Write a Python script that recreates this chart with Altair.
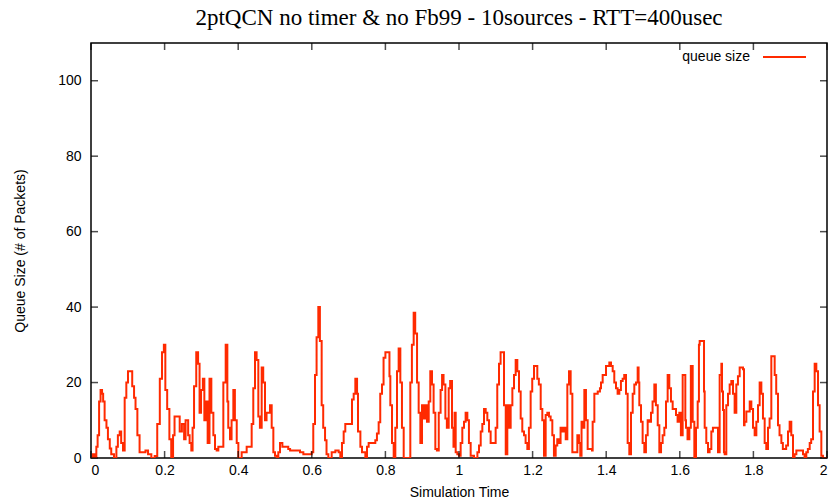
import altair as alt
import pandas as pd

TITLE = "2ptQCN no timer & no Fb99 - 10sources - RTT=400usec"
X_TITLE = "Simulation Time"
Y_TITLE = "Queue Size (# of Packets)"
SERIES = "queue size"

T = [
    0.000, 0.005, 0.010, 0.0145, 0.018, 0.022, 0.026, 0.030, 0.033, 0.037,
    0.042, 0.046, 0.051, 0.055, 0.0625, 0.069, 0.073, 0.078, 0.082, 0.087,
    0.0915, 0.096, 0.1005, 0.104, 0.108, 0.112, 0.117, 0.121, 0.126, 0.132,
    0.141, 0.148, 0.155, 0.164, 0.173, 0.180, 0.187, 0.193, 0.198, 0.202,
    0.207, 0.213, 0.218, 0.223, 0.227, 0.235, 0.241, 0.247, 0.253, 0.257,
    0.264, 0.268, 0.2726, 0.276, 0.280, 0.286, 0.291, 0.295, 0.299, 0.304,
    0.308, 0.313, 0.317, 0.322, 0.327, 0.3325, 0.337, 0.3415, 0.346, 0.355,
    0.3596, 0.366, 0.3705, 0.373, 0.3777, 0.382, 0.3868, 0.391, 0.396, 0.4004,
    0.4094, 0.423, 0.432, 0.4366, 0.441, 0.4457, 0.450, 0.4547, 0.459, 0.4638,
    0.468, 0.4728, 0.477, 0.482, 0.4864, 0.491, 0.4955, 0.500, 0.5045, 0.509,
    0.5136, 0.520, 0.532, 0.536, 0.541, 0.550, 0.560, 0.568, 0.577, 0.590,
    0.5952, 0.5996, 0.604, 0.6087, 0.613, 0.6177, 0.622, 0.6268, 0.631, 0.636,
    0.640, 0.645, 0.654, 0.664, 0.673, 0.6775, 0.682, 0.6866, 0.691, 0.6957,
    0.705, 0.7092, 0.7138, 0.7183, 0.723, 0.7255, 0.732, 0.7364, 0.741, 0.7455,
    0.750, 0.7545, 0.768, 0.7726, 0.777, 0.7817, 0.786, 0.7908, 0.795, 0.800,
    0.809, 0.811, 0.8134, 0.818, 0.8225, 0.827, 0.8315, 0.836, 0.8406, 0.845,
    0.8497, 0.863, 0.8677, 0.872, 0.8768, 0.881, 0.886, 0.8904, 0.895, 0.8995,
    0.904, 0.9085, 0.913, 0.9177, 0.922, 0.9266, 0.931, 0.9357, 0.940, 0.945,
    0.950, 0.954, 0.958, 0.963, 0.967, 0.972, 0.976, 0.981, 0.985, 0.988,
    0.991, 0.9955, 1.000, 1.0045, 1.009, 1.0136, 1.018, 1.0227, 1.027, 1.0317,
    1.0408, 1.050, 1.0544, 1.059, 1.0634, 1.068, 1.0725, 1.077, 1.0815, 1.086,
    1.095, 1.0996, 1.104, 1.1087, 1.113, 1.1205, 1.1223, 1.127, 1.1313, 1.136,
    1.1404, 1.145, 1.1495, 1.154, 1.1585, 1.163, 1.1676, 1.172, 1.1766, 1.181,
    1.1857, 1.190, 1.1947, 1.199, 1.2038, 1.208, 1.2128, 1.217, 1.222, 1.2264,
    1.231, 1.2355, 1.240, 1.2446, 1.249, 1.2536, 1.258, 1.2627, 1.267, 1.2717,
    1.276, 1.2808, 1.285, 1.290, 1.2944, 1.299, 1.3034, 1.308, 1.317, 1.3216,
    1.326, 1.3295, 1.333, 1.336, 1.3406, 1.345, 1.3496, 1.3614, 1.3632, 1.3678,
    1.377, 1.383, 1.3859, 1.3904, 1.3995, 1.4085, 1.413, 1.4176, 1.422, 1.4266,
    1.431, 1.4357, 1.440, 1.4447, 1.449, 1.4538, 1.4583, 1.4628, 1.4674, 1.472,
    1.4764, 1.481, 1.4855, 1.488, 1.490, 1.4946, 1.499, 1.5036, 1.508, 1.5127,
    1.517, 1.5217, 1.526, 1.5308, 1.535, 1.540, 1.5444, 1.549, 1.5534, 1.558,
    1.5625, 1.567, 1.5715, 1.576, 1.5806, 1.585, 1.5897, 1.594, 1.5987, 1.603,
    1.6078, 1.612, 1.615, 1.6168, 1.621, 1.626, 1.630, 1.635, 1.6395, 1.644,
    1.6486, 1.652, 1.654, 1.6585, 1.663, 1.6658, 1.6676, 1.672, 1.6767, 1.681,
    1.6857, 1.690, 1.6993, 1.7038, 1.7083, 1.713, 1.7147, 1.7174, 1.720, 1.722,
    1.7264, 1.731, 1.7355, 1.740, 1.7446, 1.749, 1.7536, 1.758, 1.7627, 1.7717,
    1.7745, 1.776, 1.7808, 1.7853, 1.790, 1.7944, 1.799, 1.8034, 1.808, 1.8125,
    1.817, 1.8216, 1.826, 1.8306, 1.835, 1.8397, 1.844, 1.8487, 1.853, 1.8578,
    1.862, 1.8668, 1.871, 1.876, 1.880, 1.885, 1.889, 1.894, 1.8985, 1.903,
    1.9076, 1.912, 1.9167, 1.930, 1.9348, 1.939, 1.9438, 1.948, 1.953, 1.957,
    1.962, 1.9665, 1.971, 1.9756, 1.980, 1.9846, 1.989, 2.000,
]

Q = [
    0, 1, 0, 3, 6, 15, 18, 17, 15, 10,
    8, 5, 2.5, 1, 0, 3, 6, 7, 4, 2,
    16, 20, 23, 23, 23, 19, 16, 13, 6, 1.5,
    1.5, 2, 1, 0, 0.5, 9, 21, 28, 30, 18,
    13, 5, 0, 6, 11, 11, 7, 9, 5, 10,
    6, 4, 2, 8, 19, 28, 25, 12, 18, 21,
    10, 15, 4, 21, 12, 6, 2.4, 2, 3, 3,
    20, 30, 15, 8, 5, 10, 18, 10, 4, 0,
    1.5, 3, 3, 9, 18.5, 28, 26, 11, 8, 24,
    20, 10, 12, 12, 14, 8, 1.5, 0.6, 0, 1.5,
    4, 3, 3, 2.4, 2, 2, 2, 1.5, 1, 1,
    1, 1.5, 9, 22, 32, 40, 31, 14, 8, 4.7,
    1, 0, 1.5, 2, 1.5, 0, 4, 7, 9, 9,
    9, 15.5, 17, 21, 17, 7, 3, 1.5, 1.5, 0,
    3, 4, 4, 4.7, 6.5, 9.5, 17, 19.5, 26.6, 28,
    28, 21.7, 14, 4, 0, 8, 23, 29, 20, 8,
    0, 0, 20, 30, 38.5, 33, 20, 12, 4, 14,
    10.5, 14, 9.6, 15, 23, 19.5, 12, 2.4, 2, 12,
    18, 22, 19.5, 10.5, 8, 18.5, 20.4, 8, 3, 12,
    1.5, 1, 0.6, 4, 8, 9.6, 12, 10, 4, 0.6,
    0, 1.5, 3.3, 7, 9, 13, 12, 10, 7, 4,
    4, 8, 19.5, 25, 28, 28, 14, 1, 14, 8,
    14, 18.5, 22, 26, 23, 17.6, 10.5, 7, 6, 4,
    2.4, 8, 17.6, 21, 24.4, 24.4, 21, 19.5, 13, 10,
    0.6, 11.4, 12, 11, 10, 6, 0.6, 3.3, 5, 4,
    8, 7, 8, 5, 19.5, 23, 17, 1.5, 1.5, 6,
    4, 0.6, 9.6, 8, 18, 10, 2.4, 2, 9.6, 17,
    17.6, 18.5, 20, 22, 24.4, 25.3, 24.4, 23, 20, 18.5,
    17, 18, 20.4, 21, 22, 17, 4, 1, 12, 17,
    19.5, 20, 24, 20, 14, 9.6, 4, 1.5, 6, 10,
    9.6, 12, 15, 19.5, 14, 8.7, 1.5, 4, 6, 8,
    15, 22, 18.5, 15, 13, 13, 11.4, 9.6, 12, 6,
    22, 22, 10, 8, 5, 8, 24.4, 9.6, 0, 8,
    15, 30, 31, 31, 31, 17.6, 8, 4, 1.5, 2.4,
    7, 8, 8, 1.5, 22, 25, 17.6, 12.7, 1.5, 1,
    14, 17, 19.5, 20.4, 17, 12, 19.5, 21.7, 24, 23.5,
    8.7, 9.6, 12.3, 12.3, 15, 13, 8, 6, 9.6, 14,
    20, 17, 10.5, 4, 2.4, 8, 10.5, 27, 27, 22,
    17, 8.7, 6, 4, 2.4, 2.4, 3.3, 7, 9.6, 6,
    0, 1, 2, 2, 1, 0, 1.5, 2.4, 4, 5,
    17.6, 25, 23, 14, 7, 0.6, 0, 0,
]

X_TICKS = [0, 0.2, 0.4, 0.6, 0.8, 1, 1.2, 1.4, 1.6, 1.8, 2]
Y_TICKS = [0, 20, 40, 60, 80, 100]

RED = "#ff2a00"
W, H = 736, 415

df = pd.DataFrame({"t": T, "q": Q})
xs = alt.Scale(domain=[0, 2], nice=False, zero=False)
ys = alt.Scale(domain=[0, 110], nice=False)

line = alt.Chart(df).mark_line(
    interpolate="step-after", strokeWidth=2, clip=True, color=RED
).encode(
    x=alt.X("t:Q", scale=xs, axis=alt.Axis(values=X_TICKS, format="~g", title=X_TITLE,
                                            labelPadding=5, titlePadding=8)),
    y=alt.Y("q:Q", scale=ys, axis=alt.Axis(values=Y_TICKS, title=Y_TITLE,
                                            labelPadding=10, titlePadding=30)),
)

# key (legend) in the upper right, gnuplot style: label left of line sample
key_df = pd.DataFrame({"s": [SERIES]})
key_text = alt.Chart(key_df).mark_text(
    align="right", baseline="middle", font="Liberation Sans", fontSize=14, color="black"
).encode(text="s:N", x=alt.value(659), y=alt.value(14))
key_line = alt.Chart(key_df).mark_rule(color=RED, strokeWidth=1.8).encode(
    x=alt.value(672), x2=alt.value(715), y=alt.value(14))

xt = pd.DataFrame({"t": X_TICKS})
yt = pd.DataFrame({"q": Y_TICKS})
tick_style = dict(color="black", thickness=1.5, size=7)

bottom = alt.Chart(xt).mark_tick(orient="vertical", **tick_style).encode(
    x=alt.X("t:Q", scale=xs), y=alt.value(H - 3.5))
top = alt.Chart(xt).mark_tick(orient="vertical", **tick_style).encode(
    x=alt.X("t:Q", scale=xs), y=alt.value(3.5))
left = alt.Chart(yt).mark_tick(orient="horizontal", **tick_style).encode(
    y=alt.Y("q:Q", scale=ys), x=alt.value(3.5))
right = alt.Chart(yt).mark_tick(orient="horizontal", **tick_style).encode(
    y=alt.Y("q:Q", scale=ys), x=alt.value(W - 3.5))

chart = alt.layer(line, bottom, top, left, right, key_text, key_line).properties(
    width=W, height=H,
    title=alt.TitleParams(TITLE, font="Liberation Serif", fontSize=23, fontWeight="normal",
                          anchor="middle", offset=13, color="black"),
    autosize=alt.AutoSizeParams(type="none"),
    padding={"left": 91, "top": 43, "right": 6, "bottom": 41},
    background="white",
).configure_view(
    stroke="black", strokeWidth=1.5
).configure_axis(
    domain=False, ticks=False, grid=False,
    labelFont="Liberation Sans", labelFontSize=14, labelColor="black",
    titleFont="Liberation Sans", titleFontSize=14, titleFontWeight="normal", titleColor="black",
)

chart.save("out.html", embed_options={"renderer": "svg", "actions": False})
